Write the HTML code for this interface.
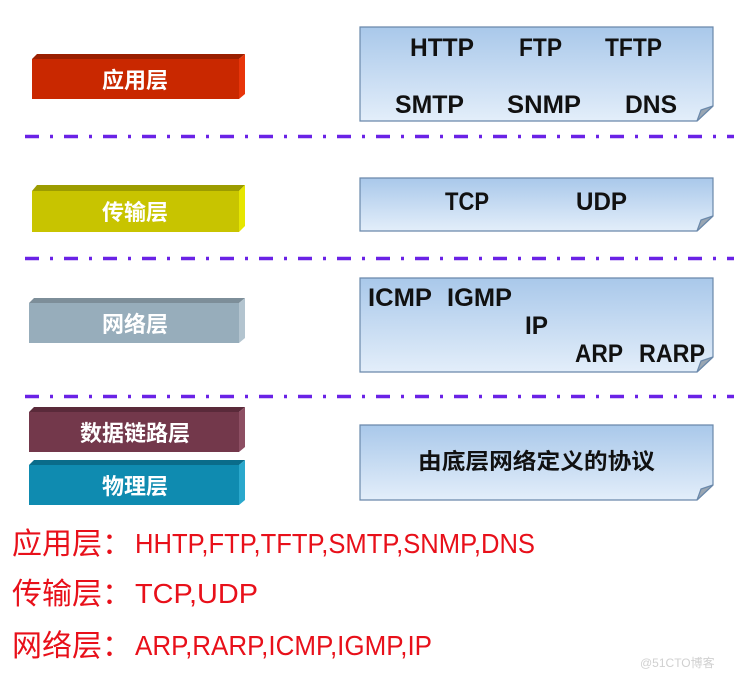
<!DOCTYPE html>
<html><head><meta charset="utf-8"><style>
html,body{margin:0;padding:0;background:#fff;}
svg{display:block}
.b{font-family:"Liberation Sans","Noto Sans CJK SC",sans-serif;font-weight:bold;font-size:25px;fill:#111;}
.w{font-family:"Liberation Sans","Noto Sans CJK SC",sans-serif;font-weight:bold;font-size:22px;fill:#fff;}
.r{font-family:"Liberation Sans","Noto Sans CJK SC",sans-serif;font-size:28px;fill:#e8101a;}
</style></head><body>
<svg width="734" height="680" viewBox="0 0 734 680" xmlns="http://www.w3.org/2000/svg">
<defs>
<linearGradient id="g" x1="0" y1="0" x2="0" y2="1">
<stop offset="0" stop-color="#a9c8ea"/><stop offset="1" stop-color="#e3eefa"/>
</linearGradient>
</defs>
<g stroke="#6a22e6" stroke-width="3.5" stroke-dasharray="14 11 3 11">
<line x1="25" y1="136.5" x2="734" y2="136.5"/>
<line x1="25" y1="258.5" x2="734" y2="258.5"/>
<line x1="25" y1="396.5" x2="734" y2="396.5"/>
</g>
<g>
<polygon points="37,54 245,54 239,59 32,59" fill="#9a1f00"/>
<polygon points="239,59 245,54 245,94 239,99" fill="#e8350a"/>
<rect x="32" y="59" width="207" height="40" fill="#c92800"/>
<text class="w" x="135" y="88" text-anchor="middle">应用层</text>

<polygon points="37,185 245,185 239,191 32,191" fill="#9c9c00"/>
<polygon points="239,191 245,185 245,226 239,232" fill="#e6e600"/>
<rect x="32" y="191" width="207" height="41" fill="#c8c400"/>
<text class="w" x="135" y="220" text-anchor="middle">传输层</text>

<polygon points="34,298 245,298 239,303 29,303" fill="#7d8e99"/>
<polygon points="239,303 245,298 245,338 239,343" fill="#b3c4cf"/>
<rect x="29" y="303" width="210" height="40" fill="#97adbb"/>
<text class="w" x="135" y="332" text-anchor="middle">网络层</text>

<polygon points="34,407 245,407 239,412 29,412" fill="#5a2a3a"/>
<polygon points="239,412 245,407 245,447 239,452" fill="#8d4f63"/>
<rect x="29" y="412" width="210" height="40" fill="#73384b"/>
<text class="w" x="135" y="441" text-anchor="middle">数据链路层</text>

<polygon points="34,460 245,460 239,465 29,465" fill="#0a6c8a"/>
<polygon points="239,465 245,460 245,500 239,505" fill="#2aa8cc"/>
<rect x="29" y="465" width="210" height="40" fill="#0f8bb0"/>
<text class="w" x="135" y="494" text-anchor="middle">物理层</text>
</g>
<g stroke="#6a88aa" stroke-width="1.2">
<path d="M360,27 H713 V106 L697,121 H360 Z" fill="url(#g)"/>
<path d="M697,121 L713,106 L701,110 Z" fill="#9aa6b2"/>
<path d="M360,178 H713 V216 L697,231 H360 Z" fill="url(#g)"/>
<path d="M697,231 L713,216 L701,220 Z" fill="#9aa6b2"/>
<path d="M360,278 H713 V357 L697,372 H360 Z" fill="url(#g)"/>
<path d="M697,372 L713,357 L701,361 Z" fill="#9aa6b2"/>
<path d="M360,425 H713 V485 L697,500 H360 Z" fill="url(#g)"/>
<path d="M697,500 L713,485 L701,489 Z" fill="#9aa6b2"/>
</g>
<g lengthAdjust="spacingAndGlyphs">
<text class="b" x="410" y="56" textLength="64" lengthAdjust="spacingAndGlyphs">HTTP</text>
<text class="b" x="519" y="56" textLength="43" lengthAdjust="spacingAndGlyphs">FTP</text>
<text class="b" x="605" y="56" textLength="57" lengthAdjust="spacingAndGlyphs">TFTP</text>
<text class="b" x="395" y="113" textLength="69" lengthAdjust="spacingAndGlyphs">SMTP</text>
<text class="b" x="507" y="113" textLength="74" lengthAdjust="spacingAndGlyphs">SNMP</text>
<text class="b" x="625" y="113" textLength="52" lengthAdjust="spacingAndGlyphs">DNS</text>
<text class="b" x="445" y="210" textLength="44" lengthAdjust="spacingAndGlyphs">TCP</text>
<text class="b" x="576" y="210" textLength="51" lengthAdjust="spacingAndGlyphs">UDP</text>
<text class="b" x="368" y="306" textLength="64" lengthAdjust="spacingAndGlyphs">ICMP</text>
<text class="b" x="447" y="306" textLength="65" lengthAdjust="spacingAndGlyphs">IGMP</text>
<text class="b" x="525" y="334" textLength="23" lengthAdjust="spacingAndGlyphs">IP</text>
<text class="b" x="575" y="362" textLength="48" lengthAdjust="spacingAndGlyphs">ARP</text>
<text class="b" x="639" y="362" textLength="66" lengthAdjust="spacingAndGlyphs">RARP</text>
</g>
<text class="b" x="418" y="469" style="font-size:22px" textLength="237" lengthAdjust="spacingAndGlyphs">由底层网络定义的协议</text>
<text class="r" x="12" y="554" style="font-size:30px">应用层：</text>
<text class="r" x="135" y="553" textLength="400" lengthAdjust="spacingAndGlyphs">HHTP,FTP,TFTP,SMTP,SNMP,DNS</text>
<text class="r" x="12" y="604" style="font-size:30px">传输层：</text>
<text class="r" x="135" y="603" textLength="123" lengthAdjust="spacingAndGlyphs">TCP,UDP</text>
<text class="r" x="12" y="656" style="font-size:30px">网络层：</text>
<text class="r" x="135" y="655" textLength="297" lengthAdjust="spacingAndGlyphs">ARP,RARP,ICMP,IGMP,IP</text>
<text x="640" y="667" style="font-family:'Liberation Sans','Noto Sans CJK SC',sans-serif;font-size:12px;fill:#d0d0d0">@51CTO博客</text>
</svg>
</body></html>
